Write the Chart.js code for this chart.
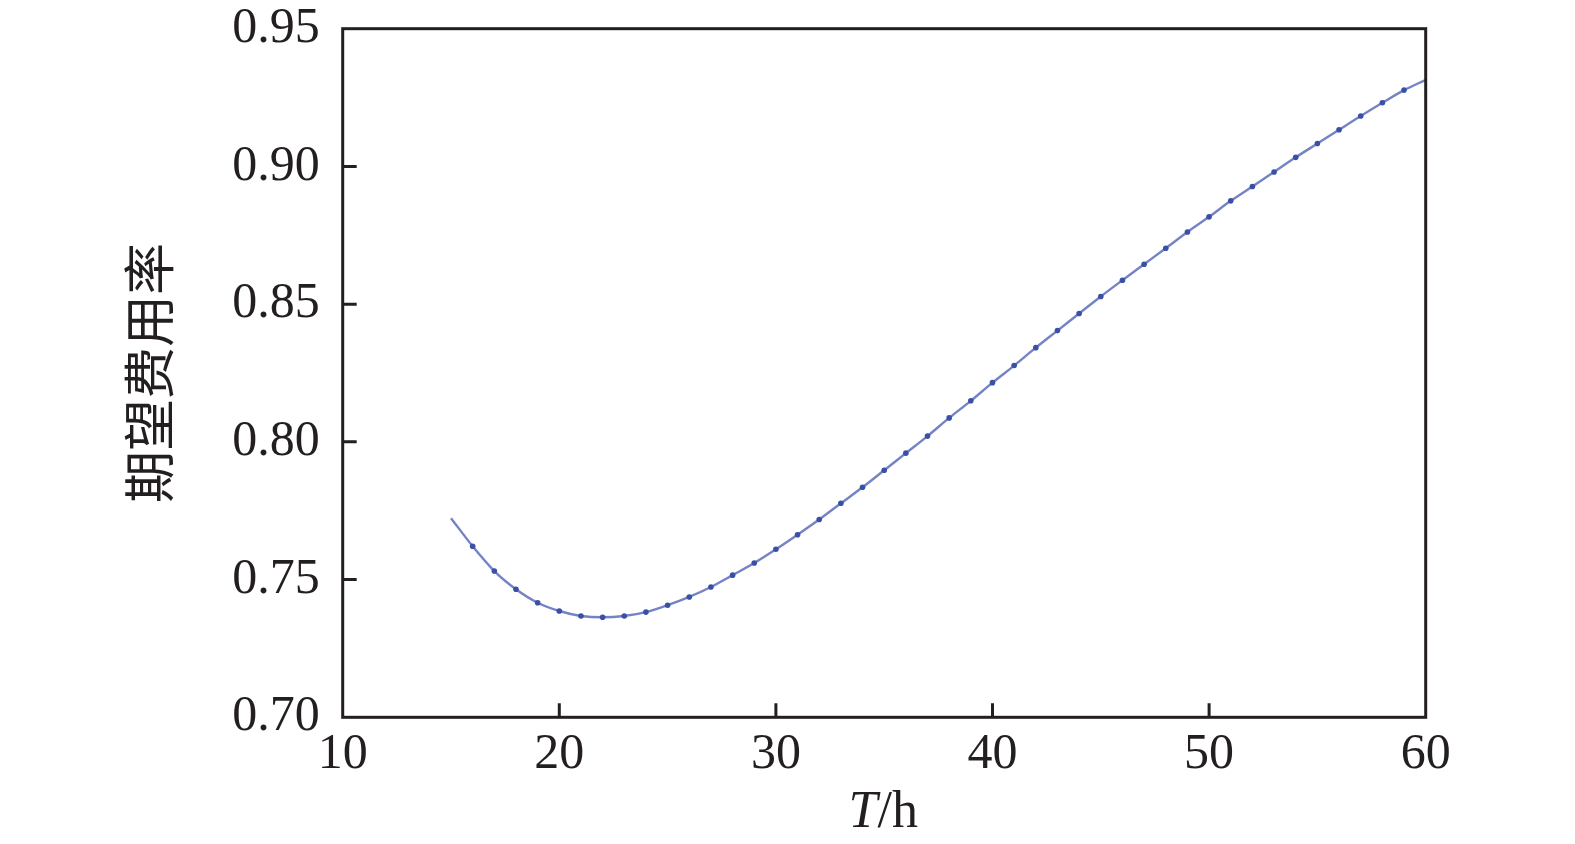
<!DOCTYPE html>
<html>
<head>
<meta charset="utf-8">
<script src="https://cdn.jsdelivr.net/npm/chart.js@4.4.1/dist/chart.umd.min.js"></script>
<style>
html,body{margin:0;padding:0;background:#fff;}
#wrap{width:1575px;height:844px;position:relative;}
</style>
</head>
<body>
<div id="wrap"><canvas id="c" width="1575" height="844"></canvas></div>
<script>
// Data
const T = [15,16,17,18,19,20,21,22,23,24,25,26,27,28,29,30,31,32,33,34,35,36,37,38,39,40,41,42,43,44,45,46,47,48,49,50,51,52,53,54,55,56,57,58,59,60];
const cost = [0.7723,0.7621,0.7531,0.7465,0.7416,0.7386,0.7368,0.7363,0.7368,0.7382,0.7407,0.7437,0.7473,0.7516,0.7560,0.7610,0.7663,0.7718,0.7777,0.7835,0.7897,0.7959,0.8021,0.8087,0.8149,0.8215,0.8277,0.8342,0.8404,0.8466,0.8528,0.8587,0.8645,0.8703,0.8762,0.8817,0.8875,0.8927,0.8980,0.9033,0.9083,0.9133,0.9183,0.9231,0.9277,0.9314];
const xTicks = [10,20,30,40,50,60];
const yTicks = [0.70,0.75,0.80,0.85,0.90,0.95];
const yTitle = '期望费用率';
const xTitleItalic = 'T';
const xTitleRest = '/h';

const points = T.map((t,i)=>({x:t,y:cost[i]}));
const radii = T.map(t => (t===T[0] || t===T[T.length-1]) ? 0 : 2.8);

const AX = '#231f20';
const SERIF = '"Liberation Serif","DejaVu Serif",serif';

const framePlugin = {
  id:'frame',
  afterDraw(chart){
    const {ctx, chartArea:a, scales} = chart;
    ctx.save();
    ctx.strokeStyle = AX;
    ctx.lineWidth = 3;
    ctx.strokeRect(a.left, a.top, a.right-a.left, a.bottom-a.top);
    // inward ticks
    const tl = 14;
    ctx.beginPath();
    xTicks.slice(1,-1).forEach(v=>{
      const px = scales.x.getPixelForValue(v);
      ctx.moveTo(px, a.bottom); ctx.lineTo(px, a.bottom - tl);
    });
    yTicks.slice(1,-1).forEach(v=>{
      const py = scales.y.getPixelForValue(v);
      ctx.moveTo(a.left, py); ctx.lineTo(a.left + tl, py);
    });
    ctx.stroke();
    // x title: italic T + /h
    ctx.fillStyle = AX;
    ctx.textBaseline = 'alphabetic';
    const fs = 52;
    const fI = 'italic ' + fs + 'px ' + SERIF;
    const fN = fs + 'px ' + SERIF;
    ctx.font = fI; const w1 = ctx.measureText(xTitleItalic).width;
    ctx.font = fN; const w2 = ctx.measureText(xTitleRest).width;
    const cx = (a.left + a.right)/2 - 1;
    const x0 = cx - (w1+w2)/2;
    const by = 827;
    ctx.font = fI; ctx.textAlign='left'; ctx.fillText(xTitleItalic, x0, by);
    ctx.font = fN; ctx.fillText(xTitleRest, x0 + w1, by);
    ctx.restore();
  }
};

function noPad(s){ s.paddingTop = 0; s.paddingBottom = 0; s.paddingLeft = 0; s.paddingRight = 0; }

new Chart(document.getElementById('c'), {
  type:'line',
  data:{
    datasets:[{
      data: points,
      borderColor:'rgba(92,108,188,0.85)',
      borderWidth:2.4,
      pointRadius: radii,
      pointBackgroundColor:'#3a50a6',
      pointBorderWidth:0,
      pointHoverRadius:0,
      tension:0.4,
      cubicInterpolationMode:'monotone',
      fill:false,
      clip:false
    }]
  },
  options:{
    responsive:false,
    animation:false,
    events:[],
    layout:{padding:{top:28.7,right:149.3,left:0,bottom:0}},
    plugins:{legend:{display:false},tooltip:{enabled:false}},
    scales:{
      x:{
        type:'linear', min:10, max:60,
        afterBuildTicks(s){ s.ticks = xTicks.map(v=>({value:v})); },
        afterFit(s){ s.height = 126.7; noPad(s); },
        grid:{display:false, drawTicks:false},
        border:{display:false},
        ticks:{color:AX, padding:8, maxRotation:0, autoSkip:false,
          font:{family:SERIF, size:50}, callback:v=>String(v)},
        title:{display:false}
      },
      y:{
        type:'linear', min:0.70, max:0.95,
        afterBuildTicks(s){ s.ticks = yTicks.map(v=>({value:v})); },
        afterFit(s){ s.width = 342.7; noPad(s); },
        grid:{display:false, drawTicks:false},
        border:{display:false},
        ticks:{color:AX, padding:23, autoSkip:false,
          font:{family:SERIF, size:50}, callback:v=>Number(v).toFixed(2)},
        title:{display:true, text:yTitle, color:AX,
          font:{family:'"Noto Sans CJK SC",sans-serif', size:52, weight:'normal'},
          padding:{top:118,bottom:0}}
      }
    }
  },
  plugins:[framePlugin]
});
</script>
</body>
</html>
